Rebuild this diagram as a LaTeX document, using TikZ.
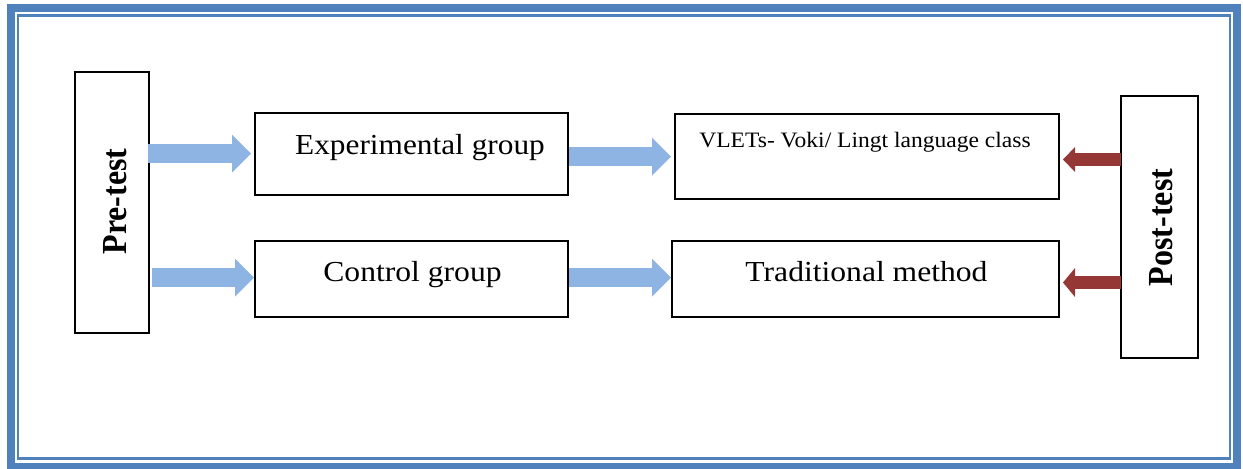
\documentclass[tikz,border=0pt]{standalone}
\usepackage{fontspec}
\setmainfont{Liberation Serif}
\usetikzlibrary{arrows.meta}
\definecolor{frameblue}{HTML}{4F81BD}
\definecolor{arrowblue}{HTML}{8EB4E3}
\definecolor{arrowred}{HTML}{953735}
\begin{document}
\begin{tikzpicture}[x=0.5pt,y=-0.5pt,
  box/.style={draw=black,line width=1pt,inner sep=0pt,outer sep=0pt},
  lbl/.style={inner sep=0pt,anchor=base},
  mainfont/.style={font=\fontsize{14.5}{17}\selectfont},
  sidefont/.style={font=\bfseries\fontsize{16}{19}\selectfont},
  bluearrow/.style={arrowblue,line width=9.5pt,-{Triangle[length=9.5pt,width=19pt,line width=0pt]}},
  redarrow/.style={arrowred,line width=6.5pt,-{Triangle[length=6pt,width=#1,line width=0pt]}},
  redarrow/.default=12.5pt]
\useasboundingbox (0,0) rectangle (1243,468);
% frame
\draw[frameblue,line width=4pt] (11,8) rectangle (1237.3,467.3);
\draw[frameblue,line width=1.3pt] (18,15.7) rectangle (1230,458.7);
% boxes
\node[box,minimum width=37pt,minimum height=130.5pt] (pre) at (112,202.5) {};
\node[box,minimum width=156.5pt,minimum height=41pt] (exp) at (411.5,154) {};
\node[box,minimum width=156.5pt,minimum height=38pt] (ctrl) at (411.5,279) {};
\node[box,minimum width=192pt,minimum height=42.75pt] (vlets) at (867,156.25) {};
\node[box,minimum width=193.5pt,minimum height=38pt] (trad) at (865.5,279) {};
\node[box,minimum width=38.5pt,minimum height=131pt] (post) at (1159.5,227) {};
% labels
\node[lbl,mainfont] (explbl) at (420,154.3) {\scalebox{1.08}[1]{Experimental group}};
\node[lbl,mainfont] (ctrllbl) at (412.5,281.5) {\scalebox{1.09}[1]{Control group}};
\node[lbl,mainfont] (tradlbl) at (866.5,281.5) {\scalebox{1.09}[1]{Traditional method}};
\node[lbl,font=\fontsize{11}{13}\selectfont] (vletslbl) at (865,147.3) {\scalebox{1.07}[1]{VLETs- Voki/ Lingt language class}};
\node[lbl,sidefont,rotate=90] (prelbl) at (126,201.5) {\scalebox{1}[1.1]{Pre-test}};
\node[lbl,sidefont,rotate=90] (postlbl) at (1172,227.5) {\scalebox{1}[1.1]{Post-test}};
% arrow rows
\coordinate (ya) at (0,153.5);
\coordinate (yb) at (0,277.5);
\coordinate (yc) at (0,156.5);
\coordinate (yd) at (0,277.5);
\coordinate (ye) at (0,159.5);
\coordinate (yf) at (0,282.5);
\draw[bluearrow,shorten <=-0.5pt,shorten >=2pt] (pre.east |- ya) -- (exp.west |- ya);
\draw[bluearrow,shorten <=1.5pt,shorten >=0.5pt] (pre.east |- yb) -- (ctrl.west |- yb);
\draw[bluearrow,shorten <=0.5pt,shorten >=2pt] (exp.east |- yc) -- (vlets.west |- yc);
\draw[bluearrow,shorten <=0.5pt,shorten >=0.5pt] (ctrl.east |- yd) -- (trad.west |- yd);
\draw[redarrow=12.5pt,shorten >=2pt] (post.west |- ye) -- (vlets.east |- ye);
\draw[redarrow=14.5pt,shorten >=2pt] (post.west |- yf) -- (trad.east |- yf);
\end{tikzpicture}
\end{document}
